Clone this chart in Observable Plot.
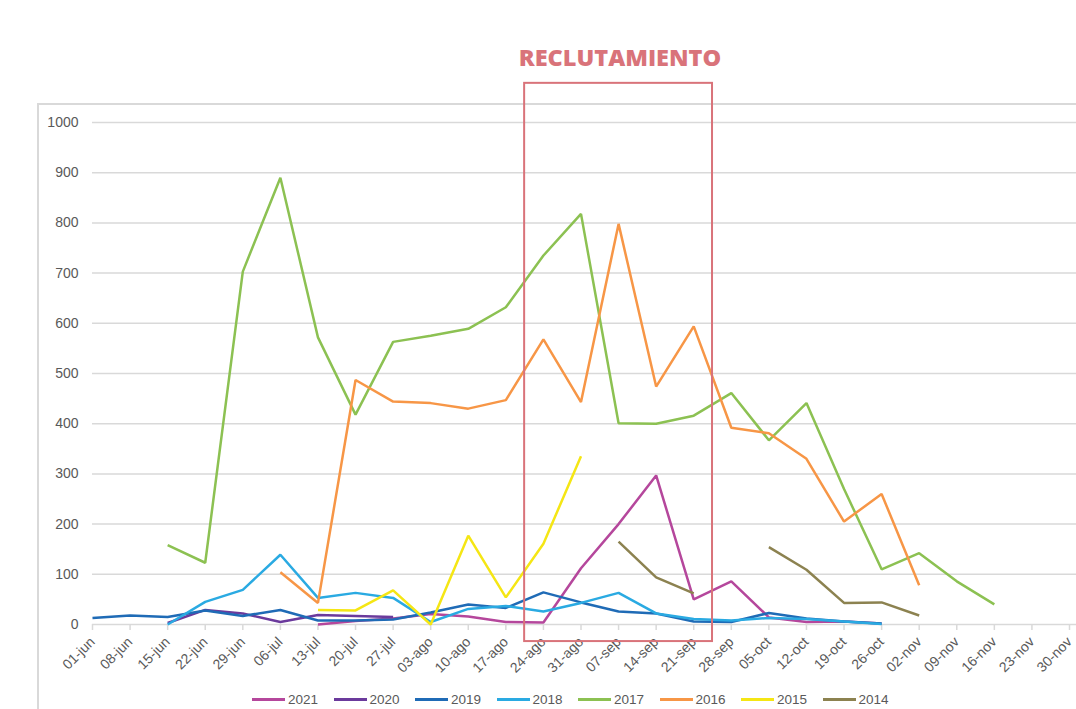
<!DOCTYPE html>
<html>
<head>
<meta charset="utf-8">
<script src="https://cdn.jsdelivr.net/npm/d3@7"></script>
<script src="https://cdn.jsdelivr.net/npm/@observablehq/plot@0.6"></script>
<style>
  html, body { margin: 0; padding: 0; background: #fff; }
  body { width: 1076px; height: 709px; position: relative; overflow: hidden; font-family: "Liberation Sans", sans-serif; }
  #frame { position: absolute; left: 37px; top: 103px; width: 1100px; height: 700px; border-left: 2px solid #d9d9d9; border-top: 2px solid #d9d9d9; }
  #chart { position: absolute; left: 0; top: 0; }
  #title { position: absolute; left: 0; width: 1240px; top: 41px; text-align: center; font-family: "Open Sans", sans-serif; font-weight: 800; font-size: 23.5px; color: #d9737a; }
  #legend { position: absolute; top: 692px; left: 252px; display: flex; font-size: 13.5px; color: #595959; }
  .item { display: flex; align-items: center; width: 81.5px; }
  .sw { width: 33px; height: 3px; margin-right: 3px; }
</style>
</head>
<body>
<div id="frame"></div>
<div id="title">RECLUTAMIENTO</div>
<div id="chart"></div>
<div id="legend"></div>
<script>
const N = null;
const weeks = ["01-jun","08-jun","15-jun","22-jun","29-jun","06-jul","13-jul","20-jul","27-jul","03-ago","10-ago","17-ago","24-ago","31-ago","07-sep","14-sep","21-sep","28-sep","05-oct","12-oct","19-oct","26-oct","02-nov","09-nov","16-nov","23-nov","30-nov"];
const years = ["2021","2020","2019","2018","2017","2016","2015","2014"];
const colors = ["#b5479c","#6b3a9c","#1f6bb6","#2aaae2","#8cc152","#f79646","#f5e614","#8c8250"];
const s2021 = [N,N,N,N,N,N,0,7,12,21,16,5,4,112,200,297,50,86,14,5,6,2,N,N,N,N,N];
const s2020 = [N,N,3,29,22,5,19,17,15,N,N,N,N,N,N,N,N,N,N,N,N,N,N,N,N,N,N];
const s2019 = [13,18,15,28,17,29,8,8,10,24,40,33,64,44,26,22,6,5,23,12,6,2,N,N,N,N,N];
const s2018 = [N,N,0,45,69,139,53,63,53,5,31,37,26,43,63,22,11,8,13,11,6,1,N,N,N,N,N];
const s2017 = [N,N,158,123,703,890,572,418,563,575,589,632,735,818,401,400,416,461,367,441,270,110,142,86,40,N,N];
const s2016 = [N,N,N,N,N,104,43,487,444,441,430,447,568,443,798,474,594,392,381,330,205,260,78,N,N,N,N];
const s2015 = [N,N,N,N,N,N,29,28,68,0,177,54,161,335,N,N,N,N,N,N,N,N,N,N,N,N,N];
const s2014 = [N,N,N,N,N,N,N,N,N,N,N,N,N,N,165,94,62,N,154,109,43,44,18,N,N,N,N];
const series = [s2021,s2020,s2019,s2018,s2017,s2016,s2015,s2014];
const yTicks = [0,100,200,300,400,500,600,700,800,900,1000];
// recruitment window: between 17-ago/24-ago and 21-sep/28-sep
const recruit = [{start: 11.5, end: 16.5}];

const rows = [];
series.forEach((s, k) => s.forEach((v, i) => rows.push({year: years[k], i, v: v === null ? NaN : v})));

const lineMarks = years.map((y, k) => Plot.line(rows.filter(r => r.year === y), {
  x: "i", y: "v", stroke: colors[k], strokeWidth: 2.5, strokeLinejoin: "miter", strokeLinecap: "butt"
}));

const chart = Plot.plot({
  width: 1076,
  height: 680,
  marginTop: 122,
  marginBottom: 56,
  marginLeft: 92,
  marginRight: 7,
  style: {fontFamily: "'Liberation Sans', sans-serif", fontSize: "14px", color: "#595959", background: "transparent"},
  x: {domain: [0, weeks.length - 1]},
  y: {domain: [0, 1000]},
  marks: [
    Plot.ruleY(yTicks, {stroke: "#d9d9d9", strokeWidth: 1.5, x1: 0, x2: weeks.length - 1 + 0.2}),
    Plot.axisY(yTicks, {tickSize: 0, tickPadding: 14, tickFormat: d => String(d), fontSize: 14, fill: "#595959", label: null}),
    Plot.axisX(d3.range(weeks.length), {tickFormat: d => weeks[d], tickRotate: -45, tickSize: 6, tickPadding: 9, stroke: "#d9d9d9", strokeWidth: 1.5, fontSize: 14, fill: "#595959", label: null}),
    ...lineMarks,
    Plot.rect(recruit, {x1: "start", x2: "end", y1: -34, y2: 1078, fill: "none", stroke: "#d9737a", strokeWidth: 2})
  ]
});
document.getElementById("chart").appendChild(chart);

const legend = document.getElementById("legend");
years.forEach((y, k) => {
  const it = document.createElement("div");
  it.className = "item";
  it.innerHTML = `<span class="sw" style="background:${colors[k]}"></span><span>${y}</span>`;
  legend.appendChild(it);
});
</script>
</body>
</html>
